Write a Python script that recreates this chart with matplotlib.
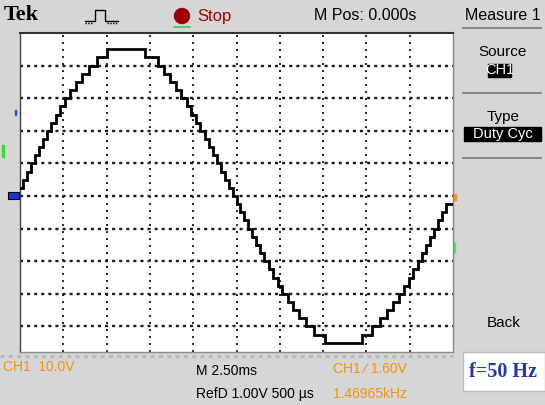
import numpy as np
import matplotlib.pyplot as plt
from matplotlib.patches import Rectangle, Circle

# ---------------------------------------------------------------------------
# Trace (CH1, 10 V/div, 2.5 ms/div)
# instants (ms) where the staircase changes level
edges_rise_ms = [-12.33, -12.11, -11.88, -11.66, -11.42, -11.19, -10.95, -10.70, -10.44,
                 -10.18, -9.90, -9.60, -9.28, -8.92, -8.52, -8.03, -7.45]
edges_fall_ms = [-5.30, -4.55, -4.20, -3.84, -3.50, -3.18, -2.88, -2.60, -2.34,
                 -2.08, -1.83, -1.59, -1.36, -1.12, -0.90, -0.67, -0.45, -0.23]
edges_neg_ms = [0.00, 0.22, 0.44, 0.67, 0.89, 1.13, 1.36, 1.60, 1.85,
                2.11, 2.37, 2.65, 2.95, 3.27, 3.63, 4.03, 4.50, 5.12]
edges_back_ms = [7.22, 7.85, 8.30, 8.69, 9.05, 9.37, 9.67, 9.95, 10.21,
                 10.47, 10.72, 10.96, 11.19, 11.43, 11.65, 11.88, 12.10]

# level (V) held after each instant, first value = level at left edge
level_start_v = [2.5]
levels_rise_v = [5, 7.5, 10, 12.5, 15, 17.5, 20, 22.5, 25,
                 27.5, 30, 32.5, 35, 37.5, 40, 42.5, 45]
levels_fall_v = [42.5, 40, 37.5, 35, 32.5, 30, 27.5, 25, 22.5,
                 20, 17.5, 15, 12.5, 10, 7.5, 5, 2.5, 0]
levels_neg_v = [-2.5, -5, -7.5, -10, -12.5, -15, -17.5, -20, -22.5,
                -25, -27.5, -30, -32.5, -35, -37.5, -40, -42.5, -45]
levels_back_v = [-42.5, -40, -37.5, -35, -32.5, -30, -27.5, -25, -22.5,
                 -20, -17.5, -15, -12.5, -10, -7.5, -5, -2.5]

# screen texts
bottom_left = "CH1  10.0V"
bottom_mid = ["M 2.50ms", "RefD 1.00V 500 µs"]
bottom_right = ["CH1 \u2215 1.60V", "1.46965kHz"]
freq_label = "f=50 Hz"

# ---------------------------------------------------------------------------
W, H = 545, 405
sans = 'Liberation Sans'
orange = '#f0930f'
frame = '#d6d6d6'

fig = plt.figure(figsize=(W / 100, H / 100), dpi=100, facecolor=frame)

# pixel overlay for the instrument decorations
bg = fig.add_axes([0, 0, 1, 1], zorder=0)
bg.set_xlim(0, W)
bg.set_ylim(H, 0)
bg.axis('off')

# scope screen
x0, x1, y0, y1 = 20, 453, 33, 352
ax = fig.add_axes([x0 / W, (H - y1) / H, (x1 - x0) / W, (y1 - y0) / H], zorder=2)
ax.set_facecolor('white')
ax.set_xlim(-12.5, 12.5)
ax.set_ylim(-47.85, 50)
ax.set_xticks([])
ax.set_yticks([])
for s in ax.spines.values():
    s.set_color('#8a8a8a')
    s.set_linewidth(1.0)
ax.spines['left'].set_color('#444444')
ax.spines['top'].set_color('#333333')
ax.spines['top'].set_linewidth(1.5)

for tv in np.arange(-10, 10.1, 2.5):
    ax.axvline(tv, color='#222222', lw=1.4, ls=(0, (1.0, 2.6)), zorder=1)
for vv in np.arange(-40, 41, 10):
    ax.axhline(vv, color='#1a1a1a', lw=1.7, ls=(0, (1.3, 1.7)), zorder=1)

t = [-12.5] + edges_rise_ms + edges_fall_ms + edges_neg_ms + edges_back_ms + [12.5]
v = level_start_v + levels_rise_v + levels_fall_v + levels_neg_v + levels_back_v
v = v + [v[-1]]
ax.step(t, v, where='post', color='black', lw=2.0, zorder=3, solid_joinstyle='miter')

# ---------------------------------------------------------------------------
# header
bg.text(4, 15, "Tek", fontsize=16, fontweight='bold', family='Liberation Serif',
        va='center', ha='left', color='black')
bg.plot([85, 95, 95, 105, 105, 118], [21, 21, 10, 10, 21, 21], color='black', lw=1.0)
bg.plot([85, 93], [22.5, 22.5], color='black', lw=1.0, ls=(0, (1, 1)))
bg.plot([107, 117], [22.5, 22.5], color='black', lw=1.0, ls=(0, (1, 1)))
bg.add_patch(Circle((182, 16), 7.5, color='#9a0000'))
bg.plot([174, 190], [27, 27], color='#44cc44', lw=1.2)
bg.text(197, 16, "Stop", fontsize=12, family=sans, color='#a00000', va='center', ha='left')
bg.text(314, 16, "M Pos: 0.000s", fontsize=11.5, family=sans, color='black',
        va='center', ha='left')
bg.text(503, 16, "Measure 1", fontsize=11.5, family=sans, color='black',
        va='center', ha='center')
bg.plot([463, 541], [28, 28], color='#777777', lw=1.2)

# right menu
bg.text(503, 52, "Source", fontsize=11, family=sans, va='center', ha='center')
bg.add_patch(Rectangle((488, 63.5), 23, 13, color='black'))
bg.text(499.5, 70, "CH1", fontsize=10.5, family=sans, color='white', va='center', ha='center')
bg.plot([463, 541], [93, 93], color='#777777', lw=1.2)
bg.text(503, 117, "Type", fontsize=11, family=sans, va='center', ha='center')
bg.add_patch(Rectangle((464, 127), 77, 13.5, color='black'))
bg.text(502.5, 134, "Duty Cyc", fontsize=10.5, family=sans, color='white',
        va='center', ha='center')
bg.plot([463, 541], [158, 158], color='#777777', lw=1.2)
bg.text(504, 323, "Back", fontsize=11, family=sans, va='center', ha='center')

# screen side markers
bg.add_patch(Rectangle((8, 192), 11, 7, facecolor='#2030d0', edgecolor='black', lw=0.8))
bg.add_patch(Rectangle((1.5, 145), 2, 12, color='#33dd33'))
bg.add_patch(Rectangle((14.5, 110), 1.5, 5, color='#3344ee'))
bg.add_patch(Rectangle((453, 194), 3, 6, color=orange))
bg.add_patch(Rectangle((453, 243), 2, 9, color='#55dd55'))
bg.plot([0, 453], [356, 356], color='#b8b8b8', lw=2.0, ls=(0, (1.5, 1.5)))

# bottom readouts
bg.text(3, 367, bottom_left, fontsize=10, family=sans, color=orange,
        va='center', ha='left')
bg.text(196, 371, bottom_mid[0], fontsize=10, family=sans, color='black',
        va='center', ha='left')
bg.text(196, 394, bottom_mid[1], fontsize=10, family=sans, color='black',
        va='center', ha='left')
bg.text(333, 369, bottom_right[0], fontsize=10, family=sans, color=orange,
        va='center', ha='left')
bg.text(333, 394, bottom_right[1], fontsize=10, family=sans, color=orange,
        va='center', ha='left')

# frequency note
bg.add_patch(Rectangle((463, 352), 82, 39, facecolor='white', edgecolor='#bbbbbb', lw=1.0))
bg.text(503, 372, freq_label, fontsize=14.5, fontweight='bold', family='Liberation Serif',
        color='#1f3d9e', va='center', ha='center')

fig.savefig('out.png', dpi=100, facecolor=frame)
